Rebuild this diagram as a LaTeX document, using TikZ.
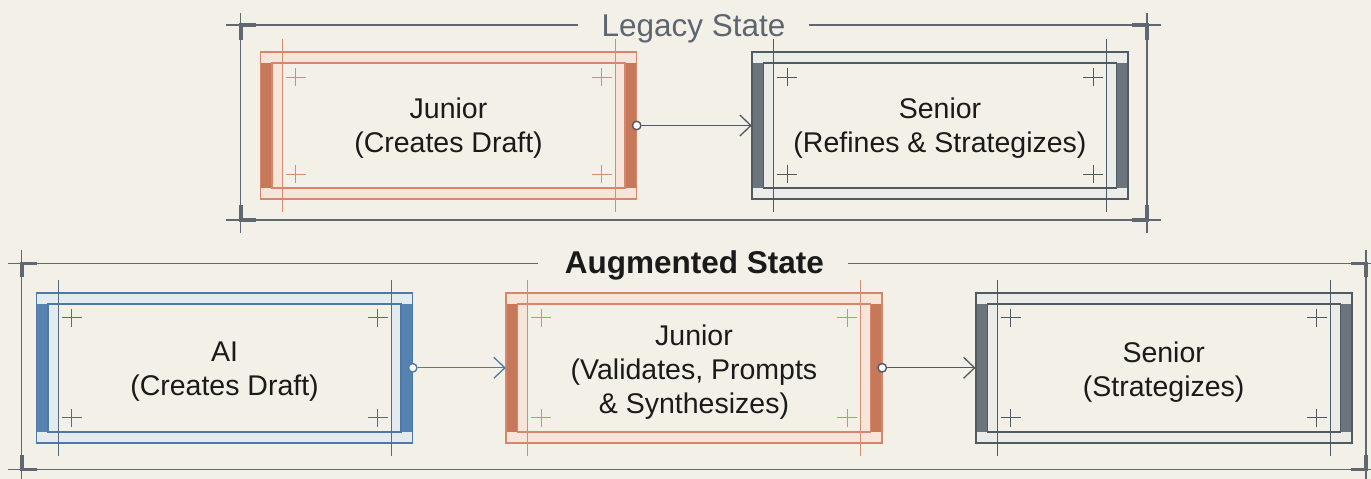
\documentclass[tikz,border=0pt]{standalone}
\usepackage{fontspec}
\setmainfont{Liberation Sans}
\usetikzlibrary{arrows.meta,calc}

\definecolor{paper}{HTML}{F3F0E7}
\definecolor{ink}{HTML}{1A1A1A}
\definecolor{frame}{HTML}{5F6870}
\definecolor{titlegray}{HTML}{5C6670}
% orange scheme
\definecolor{orgline}{HTML}{D4876B}
\definecolor{orgbar}{HTML}{C8785A}
\definecolor{orgband}{HTML}{F8E5DA}
\definecolor{orgguide}{HTML}{D68C73}
% blue scheme
\definecolor{bluline}{HTML}{4C79A8}
\definecolor{blubar}{HTML}{5783B2}
\definecolor{bluband}{HTML}{E4EBEF}
\definecolor{bluguide}{HTML}{566A80}
% gray scheme
\definecolor{gryline}{HTML}{505A62}
\definecolor{grybar}{HTML}{6B747B}
\definecolor{gryband}{HTML}{EBEBE8}
\definecolor{gryguide}{HTML}{505A62}

% #1 node name, #2 centre, #3 half height, #4 colour scheme, #5 label, #6 label drop
\newcommand\drawstage[6]{%
  \begin{scope}[shift={(#2)}]
    \fill[#4band] (-188,-#3) rectangle (188,#3);
    \fill[paper] (-166.5,{-#3+11}) rectangle (166.5,{#3-11});
    \fill[#4bar] (-188,{-#3+11}) rectangle (-176.5,{#3-11});
    \fill[#4bar] (176.5,{-#3+11}) rectangle (188,{#3-11});
    \draw[#4line, line width=1.4pt] (-176.5,{-#3+11}) rectangle (176.5,{#3-11});
    \draw[#4line, line width=1.9pt] (-188,-#3) rectangle (188,#3);
    \draw[#4guide, line width=1pt] (-166.5,{-#3-13}) -- (-166.5,{#3+13})
                                   (166.5,{-#3-13}) -- (166.5,{#3+13});
    \pic[#4guide] at (-153,{-#3+25}) {plus};
    \pic[#4guide] at (153,{-#3+25}) {plus};
    \pic[#4guide] at (-153,{#3-25}) {plus};
    \pic[#4guide] at (153,{#3-25}) {plus};
  \end{scope}
  \node[stagebox, minimum height={2*#3}] (#1) at (#2) {};
  \node[stagetext, yshift=-#6pt] (#1txt) at (#1) {#5};
}

% thick corner bracket: corner x, corner y, horizontal reach, vertical reach
\newcommand\cornermark[4]{%
  \draw[tickmark] ({#1+#3},#2) -- (#1,#2) -- (#1,{#2+#4});
}

\begin{document}
\begin{tikzpicture}[x=1pt, y=-1pt,
  plus/.pic={\draw[line width=0.9pt] (-10,0) -- (10,0) (0,-9) -- (0,9);},
  stagebox/.style={inner sep=0pt, minimum width=376pt},
  stagetext/.style={align=center, text=ink, inner sep=0pt,
    font=\fontsize{28.5}{34}\selectfont},
  frameline/.style={draw=frame, line width=1.3pt},
  tickmark/.style={draw=frame, line width=3.6pt},
  dot/.style={circle, inner sep=0pt, minimum size=8.5pt, fill=white, line width=1.4pt},
  conn/.style={line width=1.3pt, -{Straight Barb[length=11pt, width=21pt, line width=1.3pt]}}
]
\useasboundingbox[fill=paper] (0,0) rectangle (1371,479);

% ---------- Legacy state frame ----------
\node[anchor=base, text=titlegray, font=\fontsize{31.5}{36}\selectfont, inner sep=0pt]
  (legacyT) at (693.5,36.7) {Legacy State};
\draw[frameline] (226,25) -- (578,25) (809,25) -- (1161,25);
\draw[frameline] (226,220) -- (1161,220);
\draw[frameline] (240.7,13) -- (240.7,233) (1147,13) -- (1147,233);
\cornermark{240.7}{25}{15}{15}
\cornermark{240.7}{220}{15}{-15}
\cornermark{1147}{25}{-15}{15}
\cornermark{1147}{220}{-15}{-15}

% ---------- Augmented state frame ----------
\node[anchor=base, text=ink, font=\bfseries\fontsize{31.5}{36}\selectfont, inner sep=0pt]
  (augT) at (694.5,273.3) {Augmented State};
\draw[frameline] (8,263.3) -- (538,263.3) (848,263.3) -- (1371,263.3);
\draw[frameline] (8,469.3) -- (1371,469.3);
\draw[frameline] (21.7,250) -- (21.7,479) (1366,250) -- (1366,479);
\cornermark{21.7}{263.3}{15}{14}
\cornermark{21.7}{469.3}{15}{-14}
\cornermark{1366}{263.3}{-15}{14}
\cornermark{1366}{469.3}{-15}{-14}

% ---------- stages ----------
\drawstage{lj}{448.5,125.5}{73.5}{org}{Junior\\(Creates Draft)}{2.5}
\drawstage{ls}{940,125.5}{73.5}{gry}{Senior\\(Refines \& Strategizes)}{2.5}
\drawstage{ai}{224.5,367.8}{75}{blu}{AI\\(Creates Draft)}{4}
\drawstage{aj}{694,367.8}{75}{org}{Junior\\(Validates, Prompts\\\& Synthesizes)}{4}
\drawstage{as}{1163.7,367.8}{75}{gry}{Senior\\(Strategizes)}{4}

% ---------- hand-offs ----------
\node[dot, draw=gryline] (c1) at (lj.east) {};
\draw[conn, gryline] (c1) -- (ls.west);
\node[dot, draw=bluline] (c2) at (ai.east) {};
\draw[conn, bluline] (c2) -- (aj.west);
\node[dot, draw=gryline] (c3) at (aj.east) {};
\draw[conn, gryline] (c3) -- (as.west);
\end{tikzpicture}
\end{document}
